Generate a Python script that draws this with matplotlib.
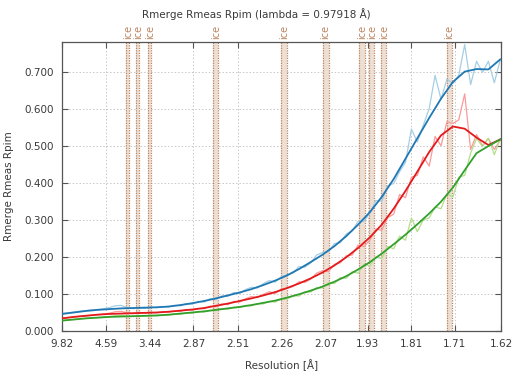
import numpy as np
import matplotlib
matplotlib.use("Agg")
import matplotlib.pyplot as plt

# resolution ticks (d-spacing, Angstrom); x axis is linear in 1/d^2
tick_d = [9.82, 4.59, 3.44, 2.87, 2.51, 2.26, 2.07, 1.93, 1.81, 1.71, 1.62]

# ice ring d-spacings and band widths (in 1/d^2)
ice_d = [3.897, 3.669, 3.441, 2.671, 2.249, 2.072, 1.948, 1.918, 1.883, 1.721]
ice_w = [0.0028, 0.0027, 0.0027, 0.0042, 0.0056, 0.0050, 0.0050, 0.0042, 0.0046, 0.0040]

# per-bin values, bins evenly spaced in 1/d^2
bin_s = np.linspace(0.0104, 0.3804, 75)

rmeas = [0.047, 0.049, 0.051, 0.053, 0.055, 0.057, 0.058, 0.060, 0.063, 0.068,
         0.069, 0.063, 0.060, 0.064, 0.061, 0.064, 0.063, 0.066, 0.065, 0.069,
         0.068, 0.074, 0.072, 0.080, 0.078, 0.087, 0.085, 0.095, 0.093, 0.104,
         0.101, 0.112, 0.118, 0.116, 0.128, 0.136, 0.132, 0.146, 0.152, 0.156,
         0.174, 0.172, 0.184, 0.205, 0.212, 0.214, 0.236, 0.238, 0.262, 0.270,
         0.296, 0.296, 0.318, 0.352, 0.350, 0.392, 0.398, 0.430, 0.455, 0.545,
         0.510, 0.555, 0.600, 0.690, 0.625, 0.680, 0.668, 0.690, 0.773, 0.665,
         0.728, 0.698, 0.728, 0.670, 0.732]

rmerge = [0.035, 0.036, 0.038, 0.040, 0.041, 0.043, 0.044, 0.046, 0.048, 0.052,
          0.053, 0.049, 0.047, 0.050, 0.048, 0.050, 0.049, 0.052, 0.051, 0.054,
          0.053, 0.058, 0.056, 0.061, 0.060, 0.067, 0.066, 0.073, 0.071, 0.080,
          0.078, 0.087, 0.093, 0.090, 0.099, 0.106, 0.101, 0.113, 0.115, 0.120,
          0.133, 0.131, 0.140, 0.156, 0.163, 0.160, 0.180, 0.184, 0.203, 0.205,
          0.232, 0.228, 0.246, 0.275, 0.272, 0.306, 0.315, 0.368, 0.360, 0.415,
          0.420, 0.470, 0.445, 0.525, 0.500, 0.565, 0.560, 0.570, 0.640, 0.490,
          0.530, 0.500, 0.520, 0.490, 0.515]

rpim = [0.028, 0.030, 0.031, 0.033, 0.034, 0.036, 0.036, 0.038, 0.039, 0.041,
        0.042, 0.040, 0.039, 0.041, 0.040, 0.042, 0.041, 0.043, 0.043, 0.046,
        0.045, 0.049, 0.048, 0.053, 0.051, 0.056, 0.055, 0.060, 0.059, 0.064,
        0.063, 0.069, 0.068, 0.074, 0.073, 0.080, 0.078, 0.087, 0.086, 0.096,
        0.094, 0.106, 0.105, 0.117, 0.116, 0.131, 0.128, 0.144, 0.142, 0.160,
        0.156, 0.180, 0.176, 0.200, 0.195, 0.228, 0.222, 0.256, 0.245, 0.305,
        0.268, 0.300, 0.305, 0.335, 0.330, 0.370, 0.362, 0.415, 0.420, 0.480,
        0.520, 0.498, 0.520, 0.476, 0.518]

# smoothed fits, sampled every 0.01 in 1/d^2
fit_s = np.linspace(0.0104, 0.3804, 38)

rmeas_fit = [0.046, 0.050, 0.054, 0.057, 0.059, 0.061, 0.062, 0.063, 0.064, 0.066,
             0.070, 0.075, 0.081, 0.088, 0.096, 0.104, 0.113, 0.124, 0.136, 0.150,
             0.167, 0.186, 0.206, 0.229, 0.256, 0.287, 0.321, 0.362, 0.410, 0.465,
             0.520, 0.575, 0.627, 0.672, 0.700, 0.707, 0.706, 0.733]

rmerge_fit = [0.034, 0.038, 0.041, 0.044, 0.046, 0.047, 0.048, 0.049, 0.050, 0.052,
              0.055, 0.058, 0.062, 0.068, 0.074, 0.081, 0.088, 0.096, 0.105, 0.116,
              0.128, 0.142, 0.158, 0.177, 0.199, 0.224, 0.253, 0.287, 0.330, 0.378,
              0.430, 0.483, 0.528, 0.552, 0.546, 0.522, 0.502, 0.517]

rpim_fit = [0.028, 0.031, 0.034, 0.036, 0.038, 0.039, 0.040, 0.041, 0.042, 0.044,
            0.047, 0.050, 0.053, 0.057, 0.061, 0.065, 0.070, 0.076, 0.082, 0.090,
            0.099, 0.109, 0.120, 0.133, 0.148, 0.166, 0.186, 0.209, 0.234, 0.260,
            0.288, 0.317, 0.349, 0.387, 0.434, 0.480, 0.499, 0.517]

ylim = (0.0, 0.78)
ice_color = "#bb8460"
text_color = "#3a3a3a"

plt.rcParams["font.family"] = "DejaVu Sans"
plt.rcParams["font.size"] = 7.5

fig = plt.figure(figsize=(5.12, 3.74), dpi=100)
ax = fig.add_axes([0.121, 0.115, 0.8575, 0.7727])

# ice rings: shaded band with dotted edges and a label above the frame
for d, w in zip(ice_d, ice_w):
    s = 1.0 / d ** 2
    ax.axvspan(s - w / 2, s + w / 2, color="#eedfd4", lw=0, zorder=1)
    for e in (s - w / 2, s + w / 2):
        ax.axvline(e, color=ice_color, lw=0.9, ls=(0, (1, 1)), zorder=1.5)
    ax.text(s, 1.012, "ice", transform=ax.get_xaxis_transform(), rotation=90,
            ha="center", va="bottom", color=ice_color, fontsize=7)

# raw per-bin curves (light) under the smoothed fits (dark)
ax.plot(bin_s, rmeas, color="#a6cee3", lw=0.9, zorder=2)
ax.plot(bin_s, rmerge, color="#fb9a99", lw=0.9, zorder=2)
ax.plot(bin_s, rpim, color="#b2df8a", lw=0.9, zorder=2)
ax.plot(fit_s, rmeas_fit, color="#1f78b4", lw=1.3, zorder=3)
ax.plot(fit_s, rmerge_fit, color="#e31a1c", lw=1.3, zorder=3)
ax.plot(fit_s, rpim_fit, color="#33a02c", lw=1.3, zorder=3)

tick_s = [1.0 / d ** 2 for d in tick_d]
ax.set_xlim(tick_s[0], tick_s[-1])
ax.set_ylim(*ylim)
ax.set_xticks(tick_s)
ax.set_xticklabels(["%.2f" % d for d in tick_d])
ax.set_yticks(np.arange(0, 0.71, 0.1))
ax.set_yticklabels(["%.3f" % v for v in np.arange(0, 0.71, 0.1)])

ax.grid(True, color="#c8c8c8", ls=(0, (1.5, 2)), lw=0.7)
ax.set_axisbelow(True)
ax.tick_params(direction="in", length=4, width=0.8, color="#555555",
               labelcolor=text_color, top=True, right=True, pad=6)
for sp in ax.spines.values():
    sp.set_color("#555555")
    sp.set_linewidth(0.9)

ax.set_xlabel("Resolution [Å]", color=text_color, labelpad=7)
ax.set_ylabel("Rmerge Rmeas Rpim", color=text_color, labelpad=7)
fig.text(0.5, 0.962, "Rmerge Rmeas Rpim (lambda = 0.97918 Å)", ha="center",
         va="center", color=text_color, fontsize=7.5)

fig.savefig("out.png", dpi=100)
